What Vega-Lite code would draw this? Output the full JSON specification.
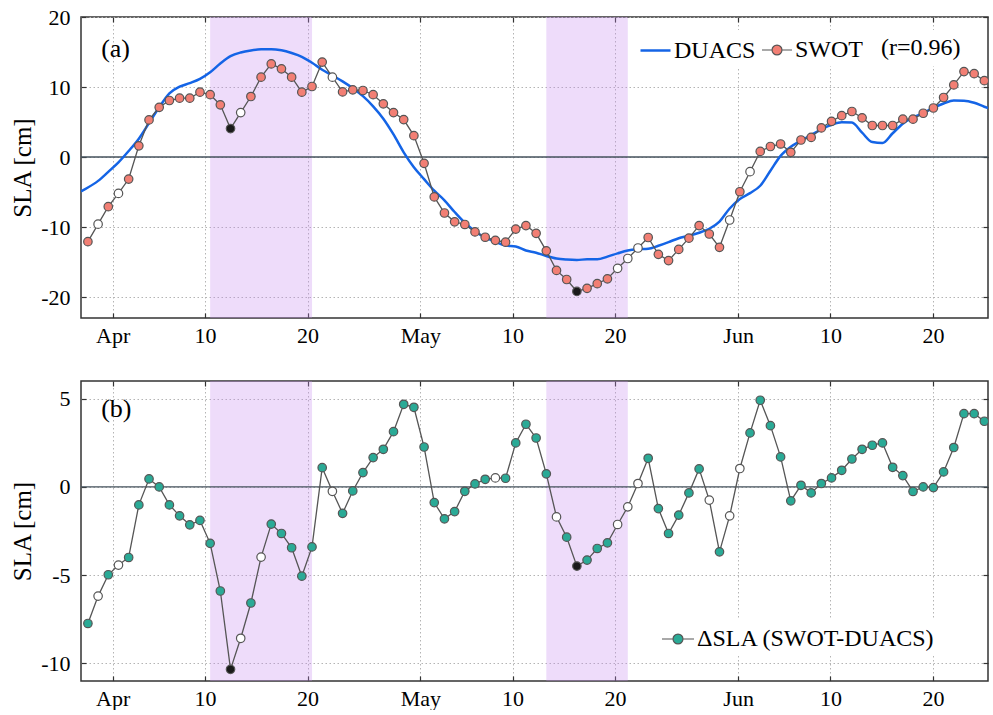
{
  "$schema": "https://vega.github.io/schema/vega-lite/v6.json",
  "background": "white",
  "padding": {"left": 9, "top": 5, "right": 4, "bottom": 0},
  "config": {
    "font": "Liberation Serif, Times New Roman, Times, serif",
    "view": {"stroke": "#333333", "strokeWidth": 1.5},
    "axis": {"labelFont": "Liberation Serif, Times New Roman, Times, serif", "labelFontSize": 22, "labelColor": "#000000", "domain": false, "tickColor": "#333333", "tickSize": -5, "tickWidth": 1.2, "gridColor": "#b4b4b4", "gridDash": [1.5, 2.5], "gridWidth": 1, "titleFont": "Liberation Serif, Times New Roman, Times, serif", "titleFontSize": 25, "titleFontWeight": "normal", "titleColor": "#000000", "labelFlush": false},
    "axisX": {"labelPadding": 12},
    "axisY": {"labelPadding": 16, "titlePadding": 5},
    "legend": {"labelFont": "Liberation Serif, Times New Roman, Times, serif", "labelFontSize": 24, "labelColor": "#000000", "titleFont": "Liberation Serif, Times New Roman, Times, serif", "titleFontSize": 24, "titleFontWeight": "normal", "titleColor": "#000000", "fillColor": "white", "padding": 4, "labelOffset": 2, "columnPadding": 8, "labelLimit": 400}
  },
  "datasets": {
    "spans": [
      {"start": "2023-04-10T12:08", "end": "2023-04-20T10:34"},
      {"start": "2023-05-13T06:58", "end": "2023-05-21T05:43"}
    ],
    "main": [
      {"t": "2023-03-28T22:00", "d": -4.9},
      {"t": "2023-03-29T14:00", "a": -12.1, "b": -7.74, "d": -4.36, "fa": "n", "fb": "n"},
      {"t": "2023-03-30T13:51", "a": -9.6, "b": -6.19, "d": -3.41, "fa": "w", "fb": "w"},
      {"t": "2023-03-31T13:41", "a": -7.1, "b": -4.98, "d": -2.12, "fa": "n", "fb": "n"},
      {"t": "2023-04-01T13:32", "a": -5.2, "b": -4.43, "d": -0.77, "fa": "w", "fb": "w"},
      {"t": "2023-04-02T13:23", "a": -3.15, "b": -4.0, "d": 0.85, "fa": "n", "fb": "n"},
      {"t": "2023-04-03T13:13", "a": 1.6, "b": -1.02, "d": 2.62, "fa": "n", "fb": "n"},
      {"t": "2023-04-04T13:04", "a": 5.3, "b": 0.45, "d": 4.85, "fa": "n", "fb": "n"},
      {"t": "2023-04-05T12:54", "a": 7.1, "b": 0.0, "d": 7.1, "fa": "n", "fb": "n"},
      {"t": "2023-04-06T12:45", "a": 8.07, "b": -1.02, "d": 9.09, "fa": "n", "fb": "n"},
      {"t": "2023-04-07T12:36", "a": 8.4, "b": -1.64, "d": 10.04, "fa": "n", "fb": "n"},
      {"t": "2023-04-08T12:26", "a": 8.4, "b": -2.15, "d": 10.55, "fa": "n", "fb": "n"},
      {"t": "2023-04-09T12:17", "a": 9.26, "b": -1.9, "d": 11.16, "fa": "n", "fb": "n"},
      {"t": "2023-04-10T12:08", "a": 8.9, "b": -3.2, "d": 12.1, "fa": "n", "fb": "n"},
      {"t": "2023-04-11T11:58", "a": 7.45, "b": -5.9, "d": 13.35, "fa": "n", "fb": "n"},
      {"t": "2023-04-12T11:49", "a": 4.06, "b": -10.34, "d": 14.4, "fa": "k", "fb": "k"},
      {"t": "2023-04-13T11:39", "a": 6.35, "b": -8.58, "d": 14.93, "fa": "w", "fb": "w"},
      {"t": "2023-04-14T11:30", "a": 8.64, "b": -6.58, "d": 15.22, "fa": "n", "fb": "n"},
      {"t": "2023-04-15T11:21", "a": 11.4, "b": -3.98, "d": 15.38, "fa": "n", "fb": "w"},
      {"t": "2023-04-16T11:11", "a": 13.3, "b": -2.11, "d": 15.41, "fa": "n", "fb": "n"},
      {"t": "2023-04-17T11:02", "a": 12.6, "b": -2.64, "d": 15.24, "fa": "n", "fb": "n"},
      {"t": "2023-04-18T10:53", "a": 11.4, "b": -3.45, "d": 14.85, "fa": "n", "fb": "n"},
      {"t": "2023-04-19T10:43", "a": 9.26, "b": -5.06, "d": 14.32, "fa": "n", "fb": "n"},
      {"t": "2023-04-20T10:34", "a": 10.07, "b": -3.4, "d": 13.47, "fa": "n", "fb": "n"},
      {"t": "2023-04-21T10:24", "a": 13.56, "b": 1.09, "d": 12.47, "fa": "n", "fb": "n"},
      {"t": "2023-04-22T10:15", "a": 11.4, "b": -0.25, "d": 11.65, "fa": "w", "fb": "w"},
      {"t": "2023-04-23T10:06", "a": 9.3, "b": -1.5, "d": 10.8, "fa": "n", "fb": "n"},
      {"t": "2023-04-24T09:56", "a": 9.6, "b": -0.23, "d": 9.83, "fa": "n", "fb": "n"},
      {"t": "2023-04-25T09:47", "a": 9.5, "b": 0.81, "d": 8.69, "fa": "n", "fb": "n"},
      {"t": "2023-04-26T09:38", "a": 8.9, "b": 1.66, "d": 7.24, "fa": "n", "fb": "n"},
      {"t": "2023-04-27T09:28", "a": 7.6, "b": 2.13, "d": 5.47, "fa": "n", "fb": "n"},
      {"t": "2023-04-28T09:19", "a": 6.35, "b": 3.13, "d": 3.22, "fa": "n", "fb": "n"},
      {"t": "2023-04-29T09:10", "a": 5.35, "b": 4.68, "d": 0.67, "fa": "n", "fb": "n"},
      {"t": "2023-04-30T09:00", "a": 3.05, "b": 4.51, "d": -1.46, "fa": "n", "fb": "n"},
      {"t": "2023-05-01T08:51", "a": -0.9, "b": 2.26, "d": -3.16, "fa": "n", "fb": "n"},
      {"t": "2023-05-02T08:41", "a": -5.7, "b": -0.89, "d": -4.81, "fa": "n", "fb": "n"},
      {"t": "2023-05-03T08:32", "a": -8.0, "b": -1.81, "d": -6.19, "fa": "n", "fb": "n"},
      {"t": "2023-05-04T08:23", "a": -9.26, "b": -1.4, "d": -7.86, "fa": "n", "fb": "n"},
      {"t": "2023-05-05T08:13", "a": -9.64, "b": -0.25, "d": -9.39, "fa": "n", "fb": "n"},
      {"t": "2023-05-06T08:04", "a": -10.7, "b": 0.17, "d": -10.6, "fa": "n", "fb": "n"},
      {"t": "2023-05-07T07:55", "a": -11.46, "b": 0.43, "d": -11.5, "fa": "n", "fb": "n"},
      {"t": "2023-05-08T07:45", "a": -11.9, "b": 0.51, "d": -12.1, "fa": "n", "fb": "w"},
      {"t": "2023-05-09T07:36", "a": -12.17, "b": 0.49, "d": -12.66, "fa": "n", "fb": "n"},
      {"t": "2023-05-10T07:26", "a": -10.3, "b": 2.49, "d": -12.79, "fa": "n", "fb": "n"},
      {"t": "2023-05-11T07:17", "a": -9.8, "b": 3.55, "d": -13.35, "fa": "n", "fb": "n"},
      {"t": "2023-05-12T07:08", "a": -10.9, "b": 2.77, "d": -13.67, "fa": "n", "fb": "n"},
      {"t": "2023-05-13T06:58", "a": -13.4, "b": 0.74, "d": -14.14, "fa": "n", "fb": "n"},
      {"t": "2023-05-14T06:49", "a": -16.2, "b": -1.7, "d": -14.5, "fa": "n", "fb": "w"},
      {"t": "2023-05-15T06:40", "a": -17.5, "b": -2.85, "d": -14.65, "fa": "n", "fb": "n"},
      {"t": "2023-05-16T06:30", "a": -19.2, "b": -4.49, "d": -14.71, "fa": "k", "fb": "k"},
      {"t": "2023-05-17T06:21", "a": -18.76, "b": -4.15, "d": -14.61, "fa": "n", "fb": "n"},
      {"t": "2023-05-18T06:11", "a": -18.1, "b": -3.49, "d": -14.61, "fa": "n", "fb": "n"},
      {"t": "2023-05-19T06:02", "a": -17.4, "b": -3.17, "d": -14.23, "fa": "n", "fb": "n"},
      {"t": "2023-05-20T05:53", "a": -15.9, "b": -2.13, "d": -13.77, "fa": "w", "fb": "w"},
      {"t": "2023-05-21T05:43", "a": -14.5, "b": -1.13, "d": -13.37, "fa": "w", "fb": "w"},
      {"t": "2023-05-22T05:34", "a": -13.0, "b": 0.19, "d": -13.19, "fa": "w", "fb": "w"},
      {"t": "2023-05-23T05:25", "a": -11.5, "b": 1.62, "d": -13.12, "fa": "n", "fb": "n"},
      {"t": "2023-05-24T05:15", "a": -13.9, "b": -1.23, "d": -12.67, "fa": "n", "fb": "n"},
      {"t": "2023-05-25T05:06", "a": -14.8, "b": -2.64, "d": -12.16, "fa": "n", "fb": "n"},
      {"t": "2023-05-26T04:57", "a": -13.2, "b": -1.6, "d": -11.6, "fa": "n", "fb": "n"},
      {"t": "2023-05-27T04:47", "a": -11.6, "b": -0.34, "d": -11.26, "fa": "n", "fb": "n"},
      {"t": "2023-05-28T04:38", "a": -9.8, "b": 1.02, "d": -10.82, "fa": "n", "fb": "n"},
      {"t": "2023-05-29T04:28", "a": -11.0, "b": -0.75, "d": -10.25, "fa": "n", "fb": "w"},
      {"t": "2023-05-30T04:19", "a": -12.9, "b": -3.68, "d": -9.22, "fa": "n", "fb": "n"},
      {"t": "2023-05-31T04:10", "a": -9.0, "b": -1.64, "d": -7.36, "fa": "w", "fb": "w"},
      {"t": "2023-06-01T04:00", "a": -4.96, "b": 1.04, "d": -6.0, "fa": "n", "fb": "w"},
      {"t": "2023-06-02T03:51", "a": -2.1, "b": 3.06, "d": -5.16, "fa": "w", "fb": "n"},
      {"t": "2023-06-03T03:42", "a": 0.8, "b": 4.91, "d": -4.11, "fa": "n", "fb": "n"},
      {"t": "2023-06-04T03:32", "a": 1.5, "b": 3.47, "d": -1.97, "fa": "n", "fb": "n"},
      {"t": "2023-06-05T03:23", "a": 1.86, "b": 1.7, "d": 0.16, "fa": "n", "fb": "n"},
      {"t": "2023-06-06T03:13", "a": 0.67, "b": -0.79, "d": 1.46, "fa": "n", "fb": "n"},
      {"t": "2023-06-07T03:04", "a": 2.43, "b": 0.09, "d": 2.34, "fa": "n", "fb": "n"},
      {"t": "2023-06-08T02:55", "a": 2.8, "b": -0.34, "d": 3.14, "fa": "n", "fb": "n"},
      {"t": "2023-06-09T02:45", "a": 4.15, "b": 0.19, "d": 3.96, "fa": "n", "fb": "n"},
      {"t": "2023-06-10T02:36", "a": 5.1, "b": 0.51, "d": 4.59, "fa": "n", "fb": "n"},
      {"t": "2023-06-11T02:27", "a": 5.9, "b": 0.94, "d": 4.96, "fa": "n", "fb": "n"},
      {"t": "2023-06-12T02:17", "a": 6.5, "b": 1.58, "d": 4.92, "fa": "n", "fb": "n"},
      {"t": "2023-06-13T02:08", "a": 5.6, "b": 2.13, "d": 3.47, "fa": "n", "fb": "n"},
      {"t": "2023-06-14T01:59", "a": 4.5, "b": 2.36, "d": 2.14, "fa": "n", "fb": "n"},
      {"t": "2023-06-15T01:49", "a": 4.5, "b": 2.49, "d": 2.01, "fa": "n", "fb": "n"},
      {"t": "2023-06-16T01:40", "a": 4.5, "b": 1.11, "d": 3.39, "fa": "n", "fb": "n"},
      {"t": "2023-06-17T01:30", "a": 5.4, "b": 0.64, "d": 4.76, "fa": "n", "fb": "n"},
      {"t": "2023-06-18T01:21", "a": 5.4, "b": -0.26, "d": 5.66, "fa": "n", "fb": "n"},
      {"t": "2023-06-19T01:12", "a": 6.25, "b": 0.0, "d": 6.25, "fa": "n", "fb": "n"},
      {"t": "2023-06-20T01:02", "a": 7.0, "b": -0.04, "d": 7.04, "fa": "n", "fb": "n"},
      {"t": "2023-06-21T00:53", "a": 8.5, "b": 0.85, "d": 7.65, "fa": "n", "fb": "n"},
      {"t": "2023-06-22T00:44", "a": 10.3, "b": 2.23, "d": 8.07, "fa": "n", "fb": "n"},
      {"t": "2023-06-23T00:34", "a": 12.2, "b": 4.15, "d": 8.05, "fa": "n", "fb": "n"},
      {"t": "2023-06-24T00:25", "a": 11.9, "b": 4.15, "d": 7.75, "fa": "n", "fb": "n"},
      {"t": "2023-06-25T00:15", "a": 10.9, "b": 3.72, "d": 7.18, "fa": "n", "fb": "n"},
      {"t": "2023-06-25T09:00", "d": 7.0}
    ]
  },
  "spacing": 32,
  "resolve": {"scale": {"color": "independent", "fill": "independent", "stroke": "independent"}},
  "vconcat": [
    {
      "width": 907,
      "height": 301,
      "layer": [
        {
          "data": {"name": "spans"},
          "mark": {"type": "rect", "color": "#c88cf0", "opacity": 0.3},
          "encoding": {
            "x": {"field": "start", "type": "temporal",
              "scale": {"domain": [{"year": 2023, "month": 3, "date": 28, "hours": 21, "minutes": 50}, {"year": 2023, "month": 6, "date": 25, "hours": 8, "minutes": 50}], "nice": false},
              "axis": {"orient": "bottom", "title": null, "grid": true,
                "values": [{"year": 2023, "month": 4, "date": 1}, {"year": 2023, "month": 4, "date": 10}, {"year": 2023, "month": 4, "date": 20}, {"year": 2023, "month": 5, "date": 1}, {"year": 2023, "month": 5, "date": 10}, {"year": 2023, "month": 5, "date": 20}, {"year": 2023, "month": 6, "date": 1}, {"year": 2023, "month": 6, "date": 10}, {"year": 2023, "month": 6, "date": 20}],
                "labelExpr": "date(datum.value) == 1 ? timeFormat(datum.value, '%b') : timeFormat(datum.value, '%d')"}},
            "x2": {"field": "end"}
          }
        },
        {
          "data": {"values": [{}]},
          "mark": {"type": "rule", "color": "#44525c", "strokeWidth": 1.3},
          "encoding": {"y": {"datum": 0, "type": "quantitative", "axis": null}}
        },
        {
          "data": {"name": "main"},
          "mark": {"type": "line", "strokeWidth": 2.5, "interpolate": "monotone", "clip": true},
          "encoding": {
            "x": {"field": "t", "type": "temporal", "axis": null},
            "y": {"field": "d", "type": "quantitative", "scale": {"domain": [-23, 20], "nice": false, "zero": false},
              "axis": {"orient": "left", "title": "SLA [cm]", "grid": true, "values": [-20, -10, 0, 10, 20], "labelExpr": "datum.value < 0 ? '-' + abs(datum.value) : '' + datum.value"}},
            "color": {"datum": "DUACS",
              "scale": {"range": ["#1464e6"]},
              "legend": {"orient": "none", "legendX": 554, "legendY": 13, "title": null,
                "symbolType": "M-1,0L1,0", "symbolSize": 900, "symbolStrokeWidth": 2.5}}
          }
        },
        {
          "data": {"name": "main"},
          "mark": {"type": "line", "strokeWidth": 1.3, "color": "#555555", "clip": true},
          "encoding": {
            "x": {"field": "t", "type": "temporal",
              "axis": {"orient": "top", "title": null, "labels": false, "grid": false,
                "values": [{"year": 2023, "month": 4, "date": 1}, {"year": 2023, "month": 4, "date": 10}, {"year": 2023, "month": 4, "date": 20}, {"year": 2023, "month": 5, "date": 1}, {"year": 2023, "month": 5, "date": 10}, {"year": 2023, "month": 5, "date": 20}, {"year": 2023, "month": 6, "date": 1}, {"year": 2023, "month": 6, "date": 10}, {"year": 2023, "month": 6, "date": 20}]}},
            "y": {"field": "a", "type": "quantitative",
              "axis": {"orient": "right", "title": null, "labels": false, "grid": false, "values": [-20, -10, 0, 10, 20]}}
          }
        },
        {
          "data": {"name": "main"},
          "mark": {"type": "point", "filled": true, "size": 72, "strokeWidth": 1.2, "opacity": 1, "clip": true},
          "encoding": {
            "x": {"field": "t", "type": "temporal", "axis": null},
            "y": {"field": "a", "type": "quantitative", "axis": null},
            "fill": {"field": "fa", "type": "nominal", "scale": {"domain": ["n", "w", "k"], "range": ["#f27f74", "#ffffff", "#1a1a1a"]}, "legend": null},
            "stroke": {"datum": "SWOT", "scale": {"range": ["#555555"]},
              "legend": {"orient": "none", "legendX": 676, "legendY": 13,
                "title": "(r=0.96)", "titleOrient": "right", "titlePadding": 18,
                "symbolType": "M-1,0L-0.33,0M0.33,0L1,0M-0.33,0A0.33,0.33,0,1,1,0.33,0A0.33,0.33,0,1,1,-0.33,0Z",
                "symbolSize": 900, "symbolFillColor": "#f27f74", "symbolStrokeWidth": 1.2}}
          }
        },
        {
          "data": {"values": [{}]},
          "mark": {"type": "text", "font": "Liberation Serif, Times New Roman, Times, serif", "fontSize": 26, "align": "left", "baseline": "middle", "color": "#000000"},
          "encoding": {
            "x": {"datum": {"year": 2023, "month": 3, "date": 30, "hours": 21}, "type": "temporal", "axis": null},
            "y": {"datum": 15.5, "type": "quantitative", "axis": null},
            "text": {"value": "(a)"}
          }
        }
      ]
    },
    {
      "width": 907,
      "height": 300,
      "layer": [
        {
          "data": {"name": "spans"},
          "mark": {"type": "rect", "color": "#c88cf0", "opacity": 0.3},
          "encoding": {
            "x": {"field": "start", "type": "temporal",
              "scale": {"domain": [{"year": 2023, "month": 3, "date": 28, "hours": 21, "minutes": 50}, {"year": 2023, "month": 6, "date": 25, "hours": 8, "minutes": 50}], "nice": false},
              "axis": {"orient": "bottom", "title": null, "grid": true,
                "values": [{"year": 2023, "month": 4, "date": 1}, {"year": 2023, "month": 4, "date": 10}, {"year": 2023, "month": 4, "date": 20}, {"year": 2023, "month": 5, "date": 1}, {"year": 2023, "month": 5, "date": 10}, {"year": 2023, "month": 5, "date": 20}, {"year": 2023, "month": 6, "date": 1}, {"year": 2023, "month": 6, "date": 10}, {"year": 2023, "month": 6, "date": 20}],
                "labelExpr": "date(datum.value) == 1 ? timeFormat(datum.value, '%b') : timeFormat(datum.value, '%d')"}},
            "x2": {"field": "end"}
          }
        },
        {
          "data": {"values": [{}]},
          "mark": {"type": "rule", "color": "#44525c", "strokeWidth": 1.3},
          "encoding": {"y": {"datum": 0, "type": "quantitative", "axis": null}}
        },
        {
          "data": {"name": "main"},
          "mark": {"type": "line", "strokeWidth": 1.3, "color": "#555555", "clip": true},
          "encoding": {
            "x": {"field": "t", "type": "temporal",
              "axis": {"orient": "top", "title": null, "labels": false, "grid": false,
                "values": [{"year": 2023, "month": 4, "date": 1}, {"year": 2023, "month": 4, "date": 10}, {"year": 2023, "month": 4, "date": 20}, {"year": 2023, "month": 5, "date": 1}, {"year": 2023, "month": 5, "date": 10}, {"year": 2023, "month": 5, "date": 20}, {"year": 2023, "month": 6, "date": 1}, {"year": 2023, "month": 6, "date": 10}, {"year": 2023, "month": 6, "date": 20}]}},
            "y": {"field": "b", "type": "quantitative", "scale": {"domain": [-11, 6], "nice": false, "zero": false},
              "axis": {"orient": "left", "title": "SLA [cm]", "grid": true, "values": [-10, -5, 0, 5], "labelExpr": "datum.value < 0 ? '-' + abs(datum.value) : '' + datum.value"}}
          }
        },
        {
          "data": {"name": "main"},
          "mark": {"type": "point", "filled": true, "size": 72, "strokeWidth": 1.2, "opacity": 1, "clip": true},
          "encoding": {
            "x": {"field": "t", "type": "temporal", "axis": null},
            "y": {"field": "b", "type": "quantitative",
              "axis": {"orient": "right", "title": null, "labels": false, "grid": false, "values": [-10, -5, 0, 5]}},
            "fill": {"field": "fb", "type": "nominal", "scale": {"domain": ["n", "w", "k"], "range": ["#2aaa96", "#ffffff", "#1a1a1a"]}, "legend": null},
            "stroke": {"datum": "ΔSLA (SWOT-DUACS)", "scale": {"range": ["#555555"]},
              "legend": {"orient": "none", "legendX": 576, "legendY": 237, "title": null,
                "symbolType": "M-1,0L-0.31,0M0.31,0L1,0M-0.31,0A0.31,0.31,0,1,1,0.31,0A0.31,0.31,0,1,1,-0.31,0Z",
                "symbolSize": 1024, "symbolFillColor": "#2aaa96", "symbolStrokeWidth": 1.2}}
          }
        },
        {
          "data": {"values": [{}]},
          "mark": {"type": "text", "font": "Liberation Serif, Times New Roman, Times, serif", "fontSize": 26, "align": "left", "baseline": "middle", "color": "#000000"},
          "encoding": {
            "x": {"datum": {"year": 2023, "month": 3, "date": 30, "hours": 21}, "type": "temporal", "axis": null},
            "y": {"datum": 4.4, "type": "quantitative", "axis": null},
            "text": {"value": "(b)"}
          }
        }
      ]
    }
  ]
}
